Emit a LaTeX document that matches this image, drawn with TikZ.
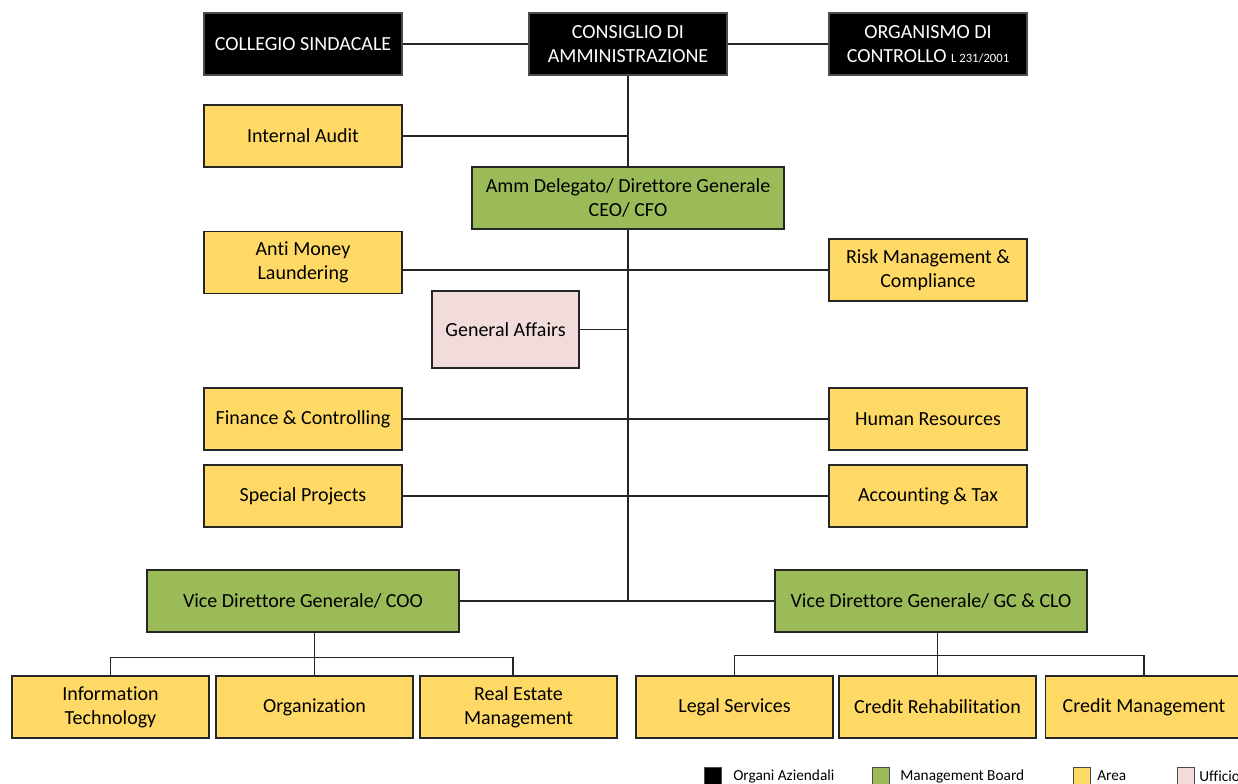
\documentclass[tikz,border=0pt]{standalone}
\usepackage{fontspec}
\setmainfont{Carlito}[Ligatures=NoCommon]
\usetikzlibrary{calc}
\definecolor{areaY}{HTML}{FFD966}
\definecolor{mgmtG}{HTML}{9BBB59}
\definecolor{uffP}{HTML}{F2DCDB}
\definecolor{lineC}{HTML}{262626}
\begin{document}
\begin{tikzpicture}[x=0.75pt,y=-0.75pt,
  base/.style={draw=lineC, line width=0.8pt, inner sep=0pt, align=center,
    font=\fontsize{15}{18}\selectfont, text=black},
  orgbox/.style={base, fill=black, draw=black!70, text=white, minimum width=148.5pt, minimum height=46.5pt},
  areabox/.style={base, fill=areaY, minimum width=148.5pt, minimum height=46.5pt},
  subbox/.style={areabox, minimum width=147.75pt},
  mgmtbox/.style={base, fill=mgmtG, minimum width=234pt, minimum height=46.5pt},
  uffbox/.style={base, fill=uffP, minimum width=110.25pt, minimum height=57.75pt},
  conn/.style={draw=lineC, line width=0.8pt},
  legsq/.style={draw=black!70, line width=0.6pt, minimum size=12.6pt, inner sep=0pt},
  legtxt/.style={anchor=west, inner sep=0pt, font=\fontsize{11.5}{13}\selectfont, text=black}
]
\useasboundingbox (0,0) rectangle (1238,783);
\clip (0,0) rectangle (1238,783);

% top row
\node[orgbox] (coll) at (303,44) {COLLEGIO SINDACALE};
\node[orgbox] (cda) at (628,44) {CONSIGLIO DI\\AMMINISTRAZIONE};
\node[orgbox] (odc) at (928,44) {ORGANISMO DI\\CONTROLLO {\fontsize{9.5}{11}\selectfont L 231/2001}};

% staff
\node[areabox] (ia) at (303,136) {Internal Audit};
\node[mgmtbox] (amm) at (628,198) {Amm Delegato/ Direttore Generale\\CEO/ CFO};
\node[areabox] (aml) at (303,262.5) {Anti Money\\Laundering};
\node[areabox] (risk) at (928,270) {Risk Management \&\\Compliance};
\node[uffbox] (ga) at (505.5,329.5) {General Affairs};
\node[areabox] (fin) at (303,419) {Finance \& Controlling};
\node[areabox] (hr) at (928,419) {Human Resources};
\node[areabox] (sp) at (303,496) {Special Projects};
\node[areabox] (acc) at (928,496) {Accounting \& Tax};

% vice directors
\node[mgmtbox] (coo) at (303,601) {Vice Direttore Generale/ COO};
\node[mgmtbox] (gc) at (931,601) {Vice Direttore Generale/ GC \& CLO};

% bottom row
\node[subbox] (it) at (110.5,707) {Information\\Technology};
\node[subbox] (org) at (314.5,707) {Organization};
\node[subbox] (re) at (518.5,707) {Real Estate\\Management};
\node[subbox] (ls) at (734.5,707) {Legal Services};
\node[subbox] (cr) at (937.5,707) {Credit Rehabilitation};
\node[subbox] (cm) at (1144,707) {Credit Management};

% connectors top
\draw[conn] (coll) -- (cda);
\draw[conn] (cda) -- (odc);
\draw[conn] (cda.south) -- (amm.north);
\draw[conn] (ia.east) -- (ia.east -| cda.south);
\coordinate (bot) at (amm.south |- coo.east);
\draw[conn] (amm.south) -- (bot);
\coordinate (amlj) at ($(aml.east)+(0,7.5)$);
\draw[conn] (amlj) -- (amlj -| amm.south);
\draw[conn] (risk.west) -- (risk.west -| amm.south);
\draw[conn] (ga.east) -- (ga.east -| amm.south);
\draw[conn] (fin.east) -- (hr.west);
\draw[conn] (sp.east) -- (acc.west);
\draw[conn] (coo.east) -- (gc.west);

% COO subtree
\coordinate (cooj) at ($(org.north)+(0,-18)$);
\coordinate (rej) at ($(re.north)+(-5.5,0)$);
\draw[conn] (org.north |- coo.south) -- (org.north);
\draw[conn] (it.north) -- (it.north |- cooj) -- (rej |- cooj) -- (rej);

% GC subtree
\coordinate (gcj) at ($(cr.north)+(0,-20)$);
\draw[conn] (cr.north |- gc.south) -- (cr.north);
\draw[conn] (ls.north) -- (ls.north |- gcj) -- (cm.north |- gcj) -- (cm.north);

% legend
\node[legsq, fill=black] (lg1) at (712.5,775.5) {};
\node[legtxt] (lt1) at (733,776) {Organi Aziendali};
\node[legsq, fill=mgmtG] (lg2) at (880.5,775.5) {};
\node[legtxt] (lt2) at (900,776) {Management Board};
\node[legsq, fill=areaY] (lg3) at (1081.5,775.5) {};
\node[legtxt] (lt3) at (1097,776) {Area};
\node[legsq, fill=uffP] (lg4) at (1185.5,775.5) {};
\node[legtxt] (lt4) at (1199,776) {Ufficio};
\end{tikzpicture}
\end{document}
